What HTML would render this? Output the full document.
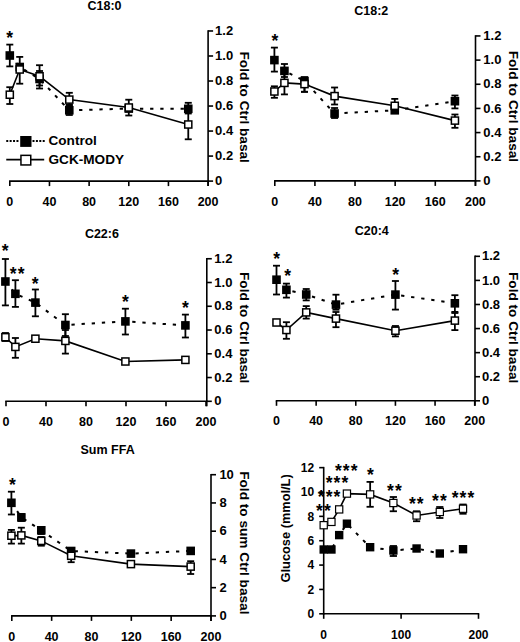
<!DOCTYPE html>
<html><head><meta charset="utf-8"><style>
html,body{margin:0;padding:0;background:#fff;}
svg{display:block;}
text{font-family:"Liberation Sans", sans-serif;font-weight:bold;fill:#000;}
line,path{stroke:#000;}
</style></head><body>
<svg width="520" height="642" viewBox="0 0 520 642">
<rect width="520" height="642" fill="#fff"/>
<text x="104.5" y="10.1" font-size="12.5" text-anchor="middle" >C18:0</text>
<line x1="9.05" y1="181.1" x2="208.85" y2="181.1" stroke-width="1.6" />
<line x1="9.8" y1="181.1" x2="9.8" y2="186.1" stroke-width="1.6" />
<text x="9.8" y="206" font-size="12.5" text-anchor="middle" >0</text>
<line x1="49.46" y1="181.1" x2="49.46" y2="186.1" stroke-width="1.6" />
<text x="49.46" y="206" font-size="12.5" text-anchor="middle" >40</text>
<line x1="89.12" y1="181.1" x2="89.12" y2="186.1" stroke-width="1.6" />
<text x="89.12" y="206" font-size="12.5" text-anchor="middle" >80</text>
<line x1="128.78" y1="181.1" x2="128.78" y2="186.1" stroke-width="1.6" />
<text x="128.78" y="206" font-size="12.5" text-anchor="middle" >120</text>
<line x1="168.44" y1="181.1" x2="168.44" y2="186.1" stroke-width="1.6" />
<text x="168.44" y="206" font-size="12.5" text-anchor="middle" >160</text>
<line x1="208.1" y1="181.1" x2="208.1" y2="186.1" stroke-width="1.6" />
<text x="208.1" y="206" font-size="12.5" text-anchor="middle" >200</text>
<line x1="208.1" y1="30.23" x2="208.1" y2="186.1" stroke-width="1.6" />
<line x1="208.1" y1="181.1" x2="213.1" y2="181.1" stroke-width="1.6" />
<text x="215.1" y="185.2" font-size="13" text-anchor="start" >0</text>
<line x1="208.1" y1="156.08" x2="213.1" y2="156.08" stroke-width="1.6" />
<text x="215.1" y="160.18" font-size="13" text-anchor="start" >0.2</text>
<line x1="208.1" y1="131.06" x2="213.1" y2="131.06" stroke-width="1.6" />
<text x="215.1" y="135.16" font-size="13" text-anchor="start" >0.4</text>
<line x1="208.1" y1="106.04" x2="213.1" y2="106.04" stroke-width="1.6" />
<text x="215.1" y="110.14" font-size="13" text-anchor="start" >0.6</text>
<line x1="208.1" y1="81.02" x2="213.1" y2="81.02" stroke-width="1.6" />
<text x="215.1" y="85.12" font-size="13" text-anchor="start" >0.8</text>
<line x1="208.1" y1="56" x2="213.1" y2="56" stroke-width="1.6" />
<text x="215.1" y="60.1" font-size="13" text-anchor="start" >1.0</text>
<line x1="208.1" y1="30.98" x2="213.1" y2="30.98" stroke-width="1.6" />
<text x="215.1" y="35.08" font-size="13" text-anchor="start" >1.2</text>
<text transform="translate(240.3,51.5) rotate(90)" font-size="13.65">Fold to Ctrl basal</text>
<path d="M9.8,55.5 L19.72,67 L39.55,79 L69.29,110.3 L128.78,108.6 L188.27,108.8" fill="none" stroke-width="2" stroke-dasharray="3.3 6.85"/>
<line x1="9.8" y1="44.6" x2="9.8" y2="66.4" stroke-width="1.8" />
<line x1="6.3" y1="44.6" x2="13.3" y2="44.6" stroke-width="1.8" />
<line x1="6.3" y1="66.4" x2="13.3" y2="66.4" stroke-width="1.8" />
<line x1="39.55" y1="71" x2="39.55" y2="88.5" stroke-width="1.8" />
<line x1="36.05" y1="71" x2="43.05" y2="71" stroke-width="1.8" />
<line x1="36.05" y1="88.5" x2="43.05" y2="88.5" stroke-width="1.8" />
<line x1="69.29" y1="105" x2="69.29" y2="115" stroke-width="1.8" />
<line x1="65.79" y1="105" x2="72.79" y2="105" stroke-width="1.8" />
<line x1="65.79" y1="115" x2="72.79" y2="115" stroke-width="1.8" />
<line x1="128.78" y1="105" x2="128.78" y2="111" stroke-width="1.8" />
<line x1="125.28" y1="105" x2="132.28" y2="105" stroke-width="1.8" />
<line x1="125.28" y1="111" x2="132.28" y2="111" stroke-width="1.8" />
<line x1="188.27" y1="102.8" x2="188.27" y2="113.5" stroke-width="1.8" />
<line x1="184.77" y1="102.8" x2="191.77" y2="102.8" stroke-width="1.8" />
<line x1="184.77" y1="113.5" x2="191.77" y2="113.5" stroke-width="1.8" />
<rect x="5.5" y="51.2" width="8.6" height="8.6" fill="#000" stroke="none"/>
<rect x="15.42" y="62.7" width="8.6" height="8.6" fill="#000" stroke="none"/>
<rect x="35.25" y="74.7" width="8.6" height="8.6" fill="#000" stroke="none"/>
<rect x="64.99" y="106" width="8.6" height="8.6" fill="#000" stroke="none"/>
<rect x="124.48" y="104.3" width="8.6" height="8.6" fill="#000" stroke="none"/>
<rect x="183.97" y="104.5" width="8.6" height="8.6" fill="#000" stroke="none"/>
<path d="M9.8,94.7 L19.72,69.5 L39.55,76.3 L69.29,99.6 L128.78,107.5 L188.27,124.5" fill="none" stroke-width="1.6"/>
<line x1="9.8" y1="87.2" x2="9.8" y2="104" stroke-width="1.8" />
<line x1="6.3" y1="87.2" x2="13.3" y2="87.2" stroke-width="1.8" />
<line x1="6.3" y1="104" x2="13.3" y2="104" stroke-width="1.8" />
<line x1="19.72" y1="56.9" x2="19.72" y2="83.7" stroke-width="1.8" />
<line x1="16.22" y1="56.9" x2="23.22" y2="56.9" stroke-width="1.8" />
<line x1="16.22" y1="83.7" x2="23.22" y2="83.7" stroke-width="1.8" />
<line x1="39.55" y1="65.2" x2="39.55" y2="85.5" stroke-width="1.8" />
<line x1="36.05" y1="65.2" x2="43.05" y2="65.2" stroke-width="1.8" />
<line x1="36.05" y1="85.5" x2="43.05" y2="85.5" stroke-width="1.8" />
<line x1="69.29" y1="92.8" x2="69.29" y2="105" stroke-width="1.8" />
<line x1="65.79" y1="92.8" x2="72.79" y2="92.8" stroke-width="1.8" />
<line x1="65.79" y1="105" x2="72.79" y2="105" stroke-width="1.8" />
<line x1="128.78" y1="99.7" x2="128.78" y2="115.5" stroke-width="1.8" />
<line x1="125.28" y1="99.7" x2="132.28" y2="99.7" stroke-width="1.8" />
<line x1="125.28" y1="115.5" x2="132.28" y2="115.5" stroke-width="1.8" />
<line x1="188.27" y1="112" x2="188.27" y2="139.3" stroke-width="1.8" />
<line x1="184.77" y1="112" x2="191.77" y2="112" stroke-width="1.8" />
<line x1="184.77" y1="139.3" x2="191.77" y2="139.3" stroke-width="1.8" />
<rect x="6.25" y="91.15" width="7.1" height="7.1" fill="#fff" stroke="#000" stroke-width="1.5"/>
<rect x="16.17" y="65.95" width="7.1" height="7.1" fill="#fff" stroke="#000" stroke-width="1.5"/>
<rect x="36" y="72.75" width="7.1" height="7.1" fill="#fff" stroke="#000" stroke-width="1.5"/>
<rect x="65.74" y="96.05" width="7.1" height="7.1" fill="#fff" stroke="#000" stroke-width="1.5"/>
<rect x="125.23" y="103.95" width="7.1" height="7.1" fill="#fff" stroke="#000" stroke-width="1.5"/>
<rect x="184.72" y="120.95" width="7.1" height="7.1" fill="#fff" stroke="#000" stroke-width="1.5"/>
<text x="10.15" y="43.8" font-size="17.5" text-anchor="middle" letter-spacing="1.1">*</text>
<text x="371.3" y="15.1" font-size="12.5" text-anchor="middle" >C18:2</text>
<line x1="274.05" y1="180.9" x2="476.25" y2="180.9" stroke-width="1.6" />
<line x1="274.8" y1="180.9" x2="274.8" y2="185.9" stroke-width="1.6" />
<text x="274.8" y="206" font-size="12.5" text-anchor="middle" >0</text>
<line x1="314.92" y1="180.9" x2="314.92" y2="185.9" stroke-width="1.6" />
<text x="314.92" y="206" font-size="12.5" text-anchor="middle" >40</text>
<line x1="355.04" y1="180.9" x2="355.04" y2="185.9" stroke-width="1.6" />
<text x="355.04" y="206" font-size="12.5" text-anchor="middle" >80</text>
<line x1="395.16" y1="180.9" x2="395.16" y2="185.9" stroke-width="1.6" />
<text x="395.16" y="206" font-size="12.5" text-anchor="middle" >120</text>
<line x1="435.28" y1="180.9" x2="435.28" y2="185.9" stroke-width="1.6" />
<text x="435.28" y="206" font-size="12.5" text-anchor="middle" >160</text>
<line x1="475.4" y1="180.9" x2="475.4" y2="185.9" stroke-width="1.6" />
<text x="475.4" y="206" font-size="12.5" text-anchor="middle" >200</text>
<line x1="475.5" y1="35.19" x2="475.5" y2="185.9" stroke-width="1.6" />
<line x1="475.5" y1="180.9" x2="480.5" y2="180.9" stroke-width="1.6" />
<text x="483.3" y="185" font-size="13" text-anchor="start" >0</text>
<line x1="475.5" y1="156.74" x2="480.5" y2="156.74" stroke-width="1.6" />
<text x="483.3" y="160.84" font-size="13" text-anchor="start" >0.2</text>
<line x1="475.5" y1="132.58" x2="480.5" y2="132.58" stroke-width="1.6" />
<text x="483.3" y="136.68" font-size="13" text-anchor="start" >0.4</text>
<line x1="475.5" y1="108.42" x2="480.5" y2="108.42" stroke-width="1.6" />
<text x="483.3" y="112.52" font-size="13" text-anchor="start" >0.6</text>
<line x1="475.5" y1="84.26" x2="480.5" y2="84.26" stroke-width="1.6" />
<text x="483.3" y="88.36" font-size="13" text-anchor="start" >0.8</text>
<line x1="475.5" y1="60.1" x2="480.5" y2="60.1" stroke-width="1.6" />
<text x="483.3" y="64.2" font-size="13" text-anchor="start" >1.0</text>
<line x1="475.5" y1="35.94" x2="480.5" y2="35.94" stroke-width="1.6" />
<text x="483.3" y="40.04" font-size="13" text-anchor="start" >1.2</text>
<text transform="translate(509.4,50.7) rotate(90)" font-size="13.65">Fold to Ctrl basal</text>
<path d="M274.4,60.1 L284.43,70.9 L304.49,81 L334.58,113.5 L394.76,110.3 L454.94,101.2" fill="none" stroke-width="2" stroke-dasharray="3.3 6.85"/>
<line x1="274.4" y1="47.6" x2="274.4" y2="71.6" stroke-width="1.8" />
<line x1="270.9" y1="47.6" x2="277.9" y2="47.6" stroke-width="1.8" />
<line x1="270.9" y1="71.6" x2="277.9" y2="71.6" stroke-width="1.8" />
<line x1="284.43" y1="64" x2="284.43" y2="77" stroke-width="1.8" />
<line x1="280.93" y1="64" x2="287.93" y2="64" stroke-width="1.8" />
<line x1="280.93" y1="77" x2="287.93" y2="77" stroke-width="1.8" />
<line x1="304.49" y1="77.3" x2="304.49" y2="91.8" stroke-width="1.8" />
<line x1="300.99" y1="77.3" x2="307.99" y2="77.3" stroke-width="1.8" />
<line x1="300.99" y1="91.8" x2="307.99" y2="91.8" stroke-width="1.8" />
<line x1="334.58" y1="108" x2="334.58" y2="118" stroke-width="1.8" />
<line x1="331.08" y1="108" x2="338.08" y2="108" stroke-width="1.8" />
<line x1="331.08" y1="118" x2="338.08" y2="118" stroke-width="1.8" />
<line x1="394.76" y1="106" x2="394.76" y2="113" stroke-width="1.8" />
<line x1="391.26" y1="106" x2="398.26" y2="106" stroke-width="1.8" />
<line x1="391.26" y1="113" x2="398.26" y2="113" stroke-width="1.8" />
<line x1="454.94" y1="95.5" x2="454.94" y2="108.4" stroke-width="1.8" />
<line x1="451.44" y1="95.5" x2="458.44" y2="95.5" stroke-width="1.8" />
<line x1="451.44" y1="108.4" x2="458.44" y2="108.4" stroke-width="1.8" />
<rect x="270.1" y="55.8" width="8.6" height="8.6" fill="#000" stroke="none"/>
<rect x="280.13" y="66.6" width="8.6" height="8.6" fill="#000" stroke="none"/>
<rect x="300.19" y="76.7" width="8.6" height="8.6" fill="#000" stroke="none"/>
<rect x="330.28" y="109.2" width="8.6" height="8.6" fill="#000" stroke="none"/>
<rect x="390.46" y="106" width="8.6" height="8.6" fill="#000" stroke="none"/>
<rect x="450.64" y="96.9" width="8.6" height="8.6" fill="#000" stroke="none"/>
<path d="M274.4,91.5 L284.43,82.9 L304.49,84.1 L334.58,96.1 L394.76,105.8 L454.94,120.6" fill="none" stroke-width="1.6"/>
<line x1="274.4" y1="86.3" x2="274.4" y2="97.8" stroke-width="1.8" />
<line x1="270.9" y1="86.3" x2="277.9" y2="86.3" stroke-width="1.8" />
<line x1="270.9" y1="97.8" x2="277.9" y2="97.8" stroke-width="1.8" />
<line x1="284.43" y1="72" x2="284.43" y2="94.4" stroke-width="1.8" />
<line x1="280.93" y1="72" x2="287.93" y2="72" stroke-width="1.8" />
<line x1="280.93" y1="94.4" x2="287.93" y2="94.4" stroke-width="1.8" />
<line x1="304.49" y1="77.3" x2="304.49" y2="91.8" stroke-width="1.8" />
<line x1="300.99" y1="77.3" x2="307.99" y2="77.3" stroke-width="1.8" />
<line x1="300.99" y1="91.8" x2="307.99" y2="91.8" stroke-width="1.8" />
<line x1="334.58" y1="87.5" x2="334.58" y2="104.5" stroke-width="1.8" />
<line x1="331.08" y1="87.5" x2="338.08" y2="87.5" stroke-width="1.8" />
<line x1="331.08" y1="104.5" x2="338.08" y2="104.5" stroke-width="1.8" />
<line x1="394.76" y1="98.9" x2="394.76" y2="110" stroke-width="1.8" />
<line x1="391.26" y1="98.9" x2="398.26" y2="98.9" stroke-width="1.8" />
<line x1="391.26" y1="110" x2="398.26" y2="110" stroke-width="1.8" />
<line x1="454.94" y1="114.5" x2="454.94" y2="127.8" stroke-width="1.8" />
<line x1="451.44" y1="114.5" x2="458.44" y2="114.5" stroke-width="1.8" />
<line x1="451.44" y1="127.8" x2="458.44" y2="127.8" stroke-width="1.8" />
<rect x="270.85" y="87.95" width="7.1" height="7.1" fill="#fff" stroke="#000" stroke-width="1.5"/>
<rect x="280.88" y="79.35" width="7.1" height="7.1" fill="#fff" stroke="#000" stroke-width="1.5"/>
<rect x="300.94" y="80.55" width="7.1" height="7.1" fill="#fff" stroke="#000" stroke-width="1.5"/>
<rect x="331.03" y="92.55" width="7.1" height="7.1" fill="#fff" stroke="#000" stroke-width="1.5"/>
<rect x="391.21" y="102.25" width="7.1" height="7.1" fill="#fff" stroke="#000" stroke-width="1.5"/>
<rect x="451.39" y="117.05" width="7.1" height="7.1" fill="#fff" stroke="#000" stroke-width="1.5"/>
<text x="275.45" y="47.4" font-size="17.5" text-anchor="middle" letter-spacing="1.1">*</text>
<text x="101.9" y="237.7" font-size="12.5" text-anchor="middle" >C22:6</text>
<line x1="5.25" y1="401.3" x2="207.55" y2="401.3" stroke-width="1.6" />
<line x1="6" y1="401.3" x2="6" y2="406.3" stroke-width="1.6" />
<text x="6" y="426" font-size="12.5" text-anchor="middle" >0</text>
<line x1="46" y1="401.3" x2="46" y2="406.3" stroke-width="1.6" />
<text x="46" y="426" font-size="12.5" text-anchor="middle" >40</text>
<line x1="86" y1="401.3" x2="86" y2="406.3" stroke-width="1.6" />
<text x="86" y="426" font-size="12.5" text-anchor="middle" >80</text>
<line x1="126" y1="401.3" x2="126" y2="406.3" stroke-width="1.6" />
<text x="126" y="426" font-size="12.5" text-anchor="middle" >120</text>
<line x1="166" y1="401.3" x2="166" y2="406.3" stroke-width="1.6" />
<text x="166" y="426" font-size="12.5" text-anchor="middle" >160</text>
<line x1="206" y1="401.3" x2="206" y2="406.3" stroke-width="1.6" />
<text x="206" y="426" font-size="12.5" text-anchor="middle" >200</text>
<line x1="206.8" y1="257.99" x2="206.8" y2="406.3" stroke-width="1.6" />
<line x1="206.8" y1="401.3" x2="211.8" y2="401.3" stroke-width="1.6" />
<text x="214.3" y="405.4" font-size="13" text-anchor="start" >0</text>
<line x1="206.8" y1="377.54" x2="211.8" y2="377.54" stroke-width="1.6" />
<text x="214.3" y="381.64" font-size="13" text-anchor="start" >0.2</text>
<line x1="206.8" y1="353.78" x2="211.8" y2="353.78" stroke-width="1.6" />
<text x="214.3" y="357.88" font-size="13" text-anchor="start" >0.4</text>
<line x1="206.8" y1="330.02" x2="211.8" y2="330.02" stroke-width="1.6" />
<text x="214.3" y="334.12" font-size="13" text-anchor="start" >0.6</text>
<line x1="206.8" y1="306.26" x2="211.8" y2="306.26" stroke-width="1.6" />
<text x="214.3" y="310.36" font-size="13" text-anchor="start" >0.8</text>
<line x1="206.8" y1="282.5" x2="211.8" y2="282.5" stroke-width="1.6" />
<text x="214.3" y="286.6" font-size="13" text-anchor="start" >1.0</text>
<line x1="206.8" y1="258.74" x2="211.8" y2="258.74" stroke-width="1.6" />
<text x="214.3" y="262.84" font-size="13" text-anchor="start" >1.2</text>
<text transform="translate(240,272) rotate(90)" font-size="13.65">Fold to Ctrl basal</text>
<path d="M5.4,281.5 L15.4,293.8 L35.4,302.6 L65.4,325 L125.4,321.4 L185.4,325.4" fill="none" stroke-width="2" stroke-dasharray="3.3 6.85"/>
<line x1="5.4" y1="259" x2="5.4" y2="305.4" stroke-width="1.8" />
<line x1="1.9" y1="259" x2="8.9" y2="259" stroke-width="1.8" />
<line x1="1.9" y1="305.4" x2="8.9" y2="305.4" stroke-width="1.8" />
<line x1="15.4" y1="280.2" x2="15.4" y2="306.9" stroke-width="1.8" />
<line x1="11.9" y1="280.2" x2="18.9" y2="280.2" stroke-width="1.8" />
<line x1="11.9" y1="306.9" x2="18.9" y2="306.9" stroke-width="1.8" />
<line x1="35.4" y1="289.5" x2="35.4" y2="316.3" stroke-width="1.8" />
<line x1="31.9" y1="289.5" x2="38.9" y2="289.5" stroke-width="1.8" />
<line x1="31.9" y1="316.3" x2="38.9" y2="316.3" stroke-width="1.8" />
<line x1="65.4" y1="314.2" x2="65.4" y2="336" stroke-width="1.8" />
<line x1="61.9" y1="314.2" x2="68.9" y2="314.2" stroke-width="1.8" />
<line x1="61.9" y1="336" x2="68.9" y2="336" stroke-width="1.8" />
<line x1="125.4" y1="308.7" x2="125.4" y2="334.5" stroke-width="1.8" />
<line x1="121.9" y1="308.7" x2="128.9" y2="308.7" stroke-width="1.8" />
<line x1="121.9" y1="334.5" x2="128.9" y2="334.5" stroke-width="1.8" />
<line x1="185.4" y1="314.6" x2="185.4" y2="337.5" stroke-width="1.8" />
<line x1="181.9" y1="314.6" x2="188.9" y2="314.6" stroke-width="1.8" />
<line x1="181.9" y1="337.5" x2="188.9" y2="337.5" stroke-width="1.8" />
<rect x="1.1" y="277.2" width="8.6" height="8.6" fill="#000" stroke="none"/>
<rect x="11.1" y="289.5" width="8.6" height="8.6" fill="#000" stroke="none"/>
<rect x="31.1" y="298.3" width="8.6" height="8.6" fill="#000" stroke="none"/>
<rect x="61.1" y="320.7" width="8.6" height="8.6" fill="#000" stroke="none"/>
<rect x="121.1" y="317.1" width="8.6" height="8.6" fill="#000" stroke="none"/>
<rect x="181.1" y="321.1" width="8.6" height="8.6" fill="#000" stroke="none"/>
<path d="M5.4,337.2 L15.4,346.9 L35.4,338.7 L65.4,340.9 L125.4,361.5 L185.4,359.9" fill="none" stroke-width="1.6"/>
<line x1="5.4" y1="333" x2="5.4" y2="341" stroke-width="1.8" />
<line x1="1.9" y1="333" x2="8.9" y2="333" stroke-width="1.8" />
<line x1="1.9" y1="341" x2="8.9" y2="341" stroke-width="1.8" />
<line x1="15.4" y1="338" x2="15.4" y2="357.8" stroke-width="1.8" />
<line x1="11.9" y1="338" x2="18.9" y2="338" stroke-width="1.8" />
<line x1="11.9" y1="357.8" x2="18.9" y2="357.8" stroke-width="1.8" />
<line x1="35.4" y1="336" x2="35.4" y2="341" stroke-width="1.8" />
<line x1="31.9" y1="336" x2="38.9" y2="336" stroke-width="1.8" />
<line x1="31.9" y1="341" x2="38.9" y2="341" stroke-width="1.8" />
<line x1="65.4" y1="330" x2="65.4" y2="353.6" stroke-width="1.8" />
<line x1="61.9" y1="330" x2="68.9" y2="330" stroke-width="1.8" />
<line x1="61.9" y1="353.6" x2="68.9" y2="353.6" stroke-width="1.8" />
<line x1="125.4" y1="359" x2="125.4" y2="364" stroke-width="1.8" />
<line x1="121.9" y1="359" x2="128.9" y2="359" stroke-width="1.8" />
<line x1="121.9" y1="364" x2="128.9" y2="364" stroke-width="1.8" />
<line x1="185.4" y1="357" x2="185.4" y2="363" stroke-width="1.8" />
<line x1="181.9" y1="357" x2="188.9" y2="357" stroke-width="1.8" />
<line x1="181.9" y1="363" x2="188.9" y2="363" stroke-width="1.8" />
<rect x="1.85" y="333.65" width="7.1" height="7.1" fill="#fff" stroke="#000" stroke-width="1.5"/>
<rect x="11.85" y="343.35" width="7.1" height="7.1" fill="#fff" stroke="#000" stroke-width="1.5"/>
<rect x="31.85" y="335.15" width="7.1" height="7.1" fill="#fff" stroke="#000" stroke-width="1.5"/>
<rect x="61.85" y="337.35" width="7.1" height="7.1" fill="#fff" stroke="#000" stroke-width="1.5"/>
<rect x="121.85" y="357.95" width="7.1" height="7.1" fill="#fff" stroke="#000" stroke-width="1.5"/>
<rect x="181.85" y="356.35" width="7.1" height="7.1" fill="#fff" stroke="#000" stroke-width="1.5"/>
<text x="5.75" y="256.5" font-size="17.5" text-anchor="middle" letter-spacing="1.1">*</text>
<text x="17.65" y="279.8" font-size="17.5" text-anchor="middle" letter-spacing="1.1">**</text>
<text x="35.65" y="290.1" font-size="17.5" text-anchor="middle" letter-spacing="1.1">*</text>
<text x="125.95" y="308" font-size="17.5" text-anchor="middle" letter-spacing="1.1">*</text>
<text x="186.05" y="314.2" font-size="17.5" text-anchor="middle" letter-spacing="1.1">*</text>
<text x="371.8" y="234.6" font-size="12.5" text-anchor="middle" >C20:4</text>
<line x1="275.75" y1="400.8" x2="475.75" y2="400.8" stroke-width="1.6" />
<line x1="276.5" y1="400.8" x2="276.5" y2="405.8" stroke-width="1.6" />
<text x="276.5" y="425" font-size="12.5" text-anchor="middle" >0</text>
<line x1="316.14" y1="400.8" x2="316.14" y2="405.8" stroke-width="1.6" />
<text x="316.14" y="425" font-size="12.5" text-anchor="middle" >40</text>
<line x1="355.78" y1="400.8" x2="355.78" y2="405.8" stroke-width="1.6" />
<text x="355.78" y="425" font-size="12.5" text-anchor="middle" >80</text>
<line x1="395.42" y1="400.8" x2="395.42" y2="405.8" stroke-width="1.6" />
<text x="395.42" y="425" font-size="12.5" text-anchor="middle" >120</text>
<line x1="435.06" y1="400.8" x2="435.06" y2="405.8" stroke-width="1.6" />
<text x="435.06" y="425" font-size="12.5" text-anchor="middle" >160</text>
<line x1="474.7" y1="400.8" x2="474.7" y2="405.8" stroke-width="1.6" />
<text x="474.7" y="425" font-size="12.5" text-anchor="middle" >200</text>
<line x1="475" y1="255.57" x2="475" y2="405.8" stroke-width="1.6" />
<line x1="475" y1="400.8" x2="480" y2="400.8" stroke-width="1.6" />
<text x="482" y="404.9" font-size="13" text-anchor="start" >0</text>
<line x1="475" y1="376.72" x2="480" y2="376.72" stroke-width="1.6" />
<text x="482" y="380.82" font-size="13" text-anchor="start" >0.2</text>
<line x1="475" y1="352.64" x2="480" y2="352.64" stroke-width="1.6" />
<text x="482" y="356.74" font-size="13" text-anchor="start" >0.4</text>
<line x1="475" y1="328.56" x2="480" y2="328.56" stroke-width="1.6" />
<text x="482" y="332.66" font-size="13" text-anchor="start" >0.6</text>
<line x1="475" y1="304.48" x2="480" y2="304.48" stroke-width="1.6" />
<text x="482" y="308.58" font-size="13" text-anchor="start" >0.8</text>
<line x1="475" y1="280.4" x2="480" y2="280.4" stroke-width="1.6" />
<text x="482" y="284.5" font-size="13" text-anchor="start" >1.0</text>
<line x1="475" y1="256.32" x2="480" y2="256.32" stroke-width="1.6" />
<text x="482" y="260.42" font-size="13" text-anchor="start" >1.2</text>
<text transform="translate(508.9,272) rotate(90)" font-size="13.65">Fold to Ctrl basal</text>
<path d="M276.5,279.7 L286.41,289.8 L306.23,294.5 L335.96,304.6 L395.42,294.6 L454.88,303.3" fill="none" stroke-width="2" stroke-dasharray="3.3 6.85"/>
<line x1="276.5" y1="265.7" x2="276.5" y2="294.5" stroke-width="1.8" />
<line x1="273" y1="265.7" x2="280" y2="265.7" stroke-width="1.8" />
<line x1="273" y1="294.5" x2="280" y2="294.5" stroke-width="1.8" />
<line x1="286.41" y1="283.6" x2="286.41" y2="297.6" stroke-width="1.8" />
<line x1="282.91" y1="283.6" x2="289.91" y2="283.6" stroke-width="1.8" />
<line x1="282.91" y1="297.6" x2="289.91" y2="297.6" stroke-width="1.8" />
<line x1="306.23" y1="289" x2="306.23" y2="300.4" stroke-width="1.8" />
<line x1="302.73" y1="289" x2="309.73" y2="289" stroke-width="1.8" />
<line x1="302.73" y1="300.4" x2="309.73" y2="300.4" stroke-width="1.8" />
<line x1="335.96" y1="294.7" x2="335.96" y2="309.7" stroke-width="1.8" />
<line x1="332.46" y1="294.7" x2="339.46" y2="294.7" stroke-width="1.8" />
<line x1="332.46" y1="309.7" x2="339.46" y2="309.7" stroke-width="1.8" />
<line x1="395.42" y1="281" x2="395.42" y2="309.6" stroke-width="1.8" />
<line x1="391.92" y1="281" x2="398.92" y2="281" stroke-width="1.8" />
<line x1="391.92" y1="309.6" x2="398.92" y2="309.6" stroke-width="1.8" />
<line x1="454.88" y1="295.2" x2="454.88" y2="311.9" stroke-width="1.8" />
<line x1="451.38" y1="295.2" x2="458.38" y2="295.2" stroke-width="1.8" />
<line x1="451.38" y1="311.9" x2="458.38" y2="311.9" stroke-width="1.8" />
<rect x="272.2" y="275.4" width="8.6" height="8.6" fill="#000" stroke="none"/>
<rect x="282.11" y="285.5" width="8.6" height="8.6" fill="#000" stroke="none"/>
<rect x="301.93" y="290.2" width="8.6" height="8.6" fill="#000" stroke="none"/>
<rect x="331.66" y="300.3" width="8.6" height="8.6" fill="#000" stroke="none"/>
<rect x="391.12" y="290.3" width="8.6" height="8.6" fill="#000" stroke="none"/>
<rect x="450.58" y="299" width="8.6" height="8.6" fill="#000" stroke="none"/>
<path d="M276.5,322.5 L286.41,330 L306.23,312.4 L335.96,318.6 L395.42,330.7 L454.88,320.6" fill="none" stroke-width="1.6"/>
<line x1="276.5" y1="320" x2="276.5" y2="325" stroke-width="1.8" />
<line x1="273" y1="320" x2="280" y2="320" stroke-width="1.8" />
<line x1="273" y1="325" x2="280" y2="325" stroke-width="1.8" />
<line x1="286.41" y1="322.2" x2="286.41" y2="338.8" stroke-width="1.8" />
<line x1="282.91" y1="322.2" x2="289.91" y2="322.2" stroke-width="1.8" />
<line x1="282.91" y1="338.8" x2="289.91" y2="338.8" stroke-width="1.8" />
<line x1="306.23" y1="306.1" x2="306.23" y2="318.6" stroke-width="1.8" />
<line x1="302.73" y1="306.1" x2="309.73" y2="306.1" stroke-width="1.8" />
<line x1="302.73" y1="318.6" x2="309.73" y2="318.6" stroke-width="1.8" />
<line x1="335.96" y1="312" x2="335.96" y2="327.2" stroke-width="1.8" />
<line x1="332.46" y1="312" x2="339.46" y2="312" stroke-width="1.8" />
<line x1="332.46" y1="327.2" x2="339.46" y2="327.2" stroke-width="1.8" />
<line x1="395.42" y1="326" x2="395.42" y2="336.4" stroke-width="1.8" />
<line x1="391.92" y1="326" x2="398.92" y2="326" stroke-width="1.8" />
<line x1="391.92" y1="336.4" x2="398.92" y2="336.4" stroke-width="1.8" />
<line x1="454.88" y1="313" x2="454.88" y2="330.1" stroke-width="1.8" />
<line x1="451.38" y1="313" x2="458.38" y2="313" stroke-width="1.8" />
<line x1="451.38" y1="330.1" x2="458.38" y2="330.1" stroke-width="1.8" />
<rect x="272.95" y="318.95" width="7.1" height="7.1" fill="#fff" stroke="#000" stroke-width="1.5"/>
<rect x="282.86" y="326.45" width="7.1" height="7.1" fill="#fff" stroke="#000" stroke-width="1.5"/>
<rect x="302.68" y="308.85" width="7.1" height="7.1" fill="#fff" stroke="#000" stroke-width="1.5"/>
<rect x="332.41" y="315.05" width="7.1" height="7.1" fill="#fff" stroke="#000" stroke-width="1.5"/>
<rect x="391.87" y="327.15" width="7.1" height="7.1" fill="#fff" stroke="#000" stroke-width="1.5"/>
<rect x="451.33" y="317.05" width="7.1" height="7.1" fill="#fff" stroke="#000" stroke-width="1.5"/>
<text x="277.25" y="264.6" font-size="17.5" text-anchor="middle" letter-spacing="1.1">*</text>
<text x="288.15" y="281.7" font-size="17.5" text-anchor="middle" letter-spacing="1.1">*</text>
<text x="396.15" y="280.5" font-size="17.5" text-anchor="middle" letter-spacing="1.1">*</text>
<text x="107.6" y="453.5" font-size="12.5" text-anchor="middle" >Sum FFA</text>
<line x1="11.05" y1="615.9" x2="211.75" y2="615.9" stroke-width="1.6" />
<line x1="11.8" y1="615.9" x2="11.8" y2="620.9" stroke-width="1.6" />
<text x="11.8" y="641" font-size="12.5" text-anchor="middle" >0</text>
<line x1="51.64" y1="615.9" x2="51.64" y2="620.9" stroke-width="1.6" />
<text x="51.64" y="641" font-size="12.5" text-anchor="middle" >40</text>
<line x1="91.48" y1="615.9" x2="91.48" y2="620.9" stroke-width="1.6" />
<text x="91.48" y="641" font-size="12.5" text-anchor="middle" >80</text>
<line x1="131.32" y1="615.9" x2="131.32" y2="620.9" stroke-width="1.6" />
<text x="131.32" y="641" font-size="12.5" text-anchor="middle" >120</text>
<line x1="171.16" y1="615.9" x2="171.16" y2="620.9" stroke-width="1.6" />
<text x="171.16" y="641" font-size="12.5" text-anchor="middle" >160</text>
<line x1="211" y1="615.9" x2="211" y2="620.9" stroke-width="1.6" />
<text x="211" y="641" font-size="12.5" text-anchor="middle" >200</text>
<line x1="211" y1="473.95" x2="211" y2="620.9" stroke-width="1.6" />
<line x1="211" y1="615.9" x2="216" y2="615.9" stroke-width="1.6" />
<text x="219.4" y="620" font-size="13" text-anchor="start" >0</text>
<line x1="211" y1="587.66" x2="216" y2="587.66" stroke-width="1.6" />
<text x="219.4" y="591.76" font-size="13" text-anchor="start" >2</text>
<line x1="211" y1="559.42" x2="216" y2="559.42" stroke-width="1.6" />
<text x="219.4" y="563.52" font-size="13" text-anchor="start" >4</text>
<line x1="211" y1="531.18" x2="216" y2="531.18" stroke-width="1.6" />
<text x="219.4" y="535.28" font-size="13" text-anchor="start" >6</text>
<line x1="211" y1="502.94" x2="216" y2="502.94" stroke-width="1.6" />
<text x="219.4" y="507.04" font-size="13" text-anchor="start" >8</text>
<line x1="211" y1="474.7" x2="216" y2="474.7" stroke-width="1.6" />
<text x="219.4" y="478.8" font-size="13" text-anchor="start" >10</text>
<text transform="translate(240.4,471.2) rotate(90)" font-size="13.65">Fold to sum Ctrl basal</text>
<path d="M11.4,502.8 L21.36,517.4 L41.28,530.3 L71.16,551 L130.92,553.6 L190.68,550.9" fill="none" stroke-width="2" stroke-dasharray="3.3 6.85"/>
<line x1="11.4" y1="491.7" x2="11.4" y2="514.5" stroke-width="1.8" />
<line x1="7.9" y1="491.7" x2="14.9" y2="491.7" stroke-width="1.8" />
<line x1="7.9" y1="514.5" x2="14.9" y2="514.5" stroke-width="1.8" />
<line x1="21.36" y1="514" x2="21.36" y2="521" stroke-width="1.8" />
<line x1="17.86" y1="514" x2="24.86" y2="514" stroke-width="1.8" />
<line x1="17.86" y1="521" x2="24.86" y2="521" stroke-width="1.8" />
<line x1="41.28" y1="527" x2="41.28" y2="534" stroke-width="1.8" />
<line x1="37.78" y1="527" x2="44.78" y2="527" stroke-width="1.8" />
<line x1="37.78" y1="534" x2="44.78" y2="534" stroke-width="1.8" />
<line x1="71.16" y1="548" x2="71.16" y2="554" stroke-width="1.8" />
<line x1="67.66" y1="548" x2="74.66" y2="548" stroke-width="1.8" />
<line x1="67.66" y1="554" x2="74.66" y2="554" stroke-width="1.8" />
<line x1="130.92" y1="551" x2="130.92" y2="556" stroke-width="1.8" />
<line x1="127.42" y1="551" x2="134.42" y2="551" stroke-width="1.8" />
<line x1="127.42" y1="556" x2="134.42" y2="556" stroke-width="1.8" />
<line x1="190.68" y1="549" x2="190.68" y2="553" stroke-width="1.8" />
<line x1="187.18" y1="549" x2="194.18" y2="549" stroke-width="1.8" />
<line x1="187.18" y1="553" x2="194.18" y2="553" stroke-width="1.8" />
<rect x="7.1" y="498.5" width="8.6" height="8.6" fill="#000" stroke="none"/>
<rect x="17.06" y="513.1" width="8.6" height="8.6" fill="#000" stroke="none"/>
<rect x="36.98" y="526" width="8.6" height="8.6" fill="#000" stroke="none"/>
<rect x="66.86" y="546.7" width="8.6" height="8.6" fill="#000" stroke="none"/>
<rect x="126.62" y="549.3" width="8.6" height="8.6" fill="#000" stroke="none"/>
<rect x="186.38" y="546.6" width="8.6" height="8.6" fill="#000" stroke="none"/>
<path d="M11.4,535.7 L21.36,535.4 L41.28,540.9 L71.16,555.8 L130.92,564.1 L190.68,566.6" fill="none" stroke-width="1.6"/>
<line x1="11.4" y1="529.9" x2="11.4" y2="543.6" stroke-width="1.8" />
<line x1="7.9" y1="529.9" x2="14.9" y2="529.9" stroke-width="1.8" />
<line x1="7.9" y1="543.6" x2="14.9" y2="543.6" stroke-width="1.8" />
<line x1="21.36" y1="527.7" x2="21.36" y2="543.6" stroke-width="1.8" />
<line x1="17.86" y1="527.7" x2="24.86" y2="527.7" stroke-width="1.8" />
<line x1="17.86" y1="543.6" x2="24.86" y2="543.6" stroke-width="1.8" />
<line x1="41.28" y1="537" x2="41.28" y2="545.7" stroke-width="1.8" />
<line x1="37.78" y1="537" x2="44.78" y2="537" stroke-width="1.8" />
<line x1="37.78" y1="545.7" x2="44.78" y2="545.7" stroke-width="1.8" />
<line x1="71.16" y1="551" x2="71.16" y2="562.2" stroke-width="1.8" />
<line x1="67.66" y1="551" x2="74.66" y2="551" stroke-width="1.8" />
<line x1="67.66" y1="562.2" x2="74.66" y2="562.2" stroke-width="1.8" />
<line x1="130.92" y1="562" x2="130.92" y2="566" stroke-width="1.8" />
<line x1="127.42" y1="562" x2="134.42" y2="562" stroke-width="1.8" />
<line x1="127.42" y1="566" x2="134.42" y2="566" stroke-width="1.8" />
<line x1="190.68" y1="561.2" x2="190.68" y2="574" stroke-width="1.8" />
<line x1="187.18" y1="561.2" x2="194.18" y2="561.2" stroke-width="1.8" />
<line x1="187.18" y1="574" x2="194.18" y2="574" stroke-width="1.8" />
<rect x="7.85" y="532.15" width="7.1" height="7.1" fill="#fff" stroke="#000" stroke-width="1.5"/>
<rect x="17.81" y="531.85" width="7.1" height="7.1" fill="#fff" stroke="#000" stroke-width="1.5"/>
<rect x="37.73" y="537.35" width="7.1" height="7.1" fill="#fff" stroke="#000" stroke-width="1.5"/>
<rect x="67.61" y="552.25" width="7.1" height="7.1" fill="#fff" stroke="#000" stroke-width="1.5"/>
<rect x="127.37" y="560.55" width="7.1" height="7.1" fill="#fff" stroke="#000" stroke-width="1.5"/>
<rect x="187.13" y="563.05" width="7.1" height="7.1" fill="#fff" stroke="#000" stroke-width="1.5"/>
<text x="12.85" y="490.9" font-size="17.5" text-anchor="middle" letter-spacing="1.1">*</text>
<text x="0" y="0" font-size="12.5" text-anchor="middle" ></text>
<line x1="322.95" y1="613.8" x2="479.25" y2="613.8" stroke-width="1.6" />
<line x1="323.7" y1="613.8" x2="323.7" y2="618.8" stroke-width="1.6" />
<text x="323.7" y="638.8" font-size="12" text-anchor="middle" >0</text>
<line x1="401.1" y1="613.8" x2="401.1" y2="618.8" stroke-width="1.6" />
<text x="401.1" y="638.8" font-size="12" text-anchor="middle" >100</text>
<line x1="478.5" y1="613.8" x2="478.5" y2="618.8" stroke-width="1.6" />
<text x="478.5" y="638.8" font-size="12" text-anchor="middle" >200</text>
<line x1="323.7" y1="466.89" x2="323.7" y2="614.6" stroke-width="1.6" />
<line x1="319.2" y1="613.8" x2="323.7" y2="613.8" stroke-width="1.6" />
<text x="314.2" y="618.1" font-size="12" text-anchor="end" >0</text>
<line x1="319.2" y1="589.44" x2="323.7" y2="589.44" stroke-width="1.6" />
<text x="314.2" y="593.74" font-size="12" text-anchor="end" >2</text>
<line x1="319.2" y1="565.08" x2="323.7" y2="565.08" stroke-width="1.6" />
<text x="314.2" y="569.38" font-size="12" text-anchor="end" >4</text>
<line x1="319.2" y1="540.72" x2="323.7" y2="540.72" stroke-width="1.6" />
<text x="314.2" y="545.02" font-size="12" text-anchor="end" >6</text>
<line x1="319.2" y1="516.36" x2="323.7" y2="516.36" stroke-width="1.6" />
<text x="314.2" y="520.66" font-size="12" text-anchor="end" >8</text>
<line x1="319.2" y1="492" x2="323.7" y2="492" stroke-width="1.6" />
<text x="314.2" y="496.3" font-size="12" text-anchor="end" >10</text>
<line x1="319.2" y1="467.64" x2="323.7" y2="467.64" stroke-width="1.6" />
<text x="314.2" y="471.94" font-size="12" text-anchor="end" >12</text>
<text transform="translate(290.2,582.4) rotate(-90)" font-size="12.8">Glucose (mmol/L)</text>
<path d="M323.7,549.5 L331.44,549.5 L339.18,535.1 L346.92,523.7 L370.14,547.2 L393.36,550.5 L416.58,548.5 L439.8,553.5 L463.02,549.2" fill="none" stroke-width="2" stroke-dasharray="3.3 6.85"/>
<line x1="393.36" y1="546" x2="393.36" y2="556" stroke-width="1.8" />
<line x1="389.76" y1="546" x2="396.96" y2="546" stroke-width="1.8" />
<line x1="389.76" y1="556" x2="396.96" y2="556" stroke-width="1.8" />
<rect x="319.5" y="545.3" width="8.4" height="8.4" fill="#000" stroke="none"/>
<rect x="327.24" y="545.3" width="8.4" height="8.4" fill="#000" stroke="none"/>
<rect x="334.98" y="530.9" width="8.4" height="8.4" fill="#000" stroke="none"/>
<rect x="342.72" y="519.5" width="8.4" height="8.4" fill="#000" stroke="none"/>
<rect x="365.94" y="543" width="8.4" height="8.4" fill="#000" stroke="none"/>
<rect x="389.16" y="546.3" width="8.4" height="8.4" fill="#000" stroke="none"/>
<rect x="412.38" y="544.3" width="8.4" height="8.4" fill="#000" stroke="none"/>
<rect x="435.6" y="549.3" width="8.4" height="8.4" fill="#000" stroke="none"/>
<rect x="458.82" y="545" width="8.4" height="8.4" fill="#000" stroke="none"/>
<path d="M323.7,525.2 L331.44,521.9 L339.18,509.4 L346.92,493.6 L370.14,494.4 L393.36,503 L416.58,515.5 L439.8,512 L463.02,508.75" fill="none" stroke-width="1.6"/>
<line x1="370.14" y1="481.9" x2="370.14" y2="506.8" stroke-width="1.8" />
<line x1="366.54" y1="481.9" x2="373.74" y2="481.9" stroke-width="1.8" />
<line x1="366.54" y1="506.8" x2="373.74" y2="506.8" stroke-width="1.8" />
<line x1="393.36" y1="497" x2="393.36" y2="511.25" stroke-width="1.8" />
<line x1="389.76" y1="497" x2="396.96" y2="497" stroke-width="1.8" />
<line x1="389.76" y1="511.25" x2="396.96" y2="511.25" stroke-width="1.8" />
<line x1="416.58" y1="511.25" x2="416.58" y2="521.25" stroke-width="1.8" />
<line x1="412.98" y1="511.25" x2="420.18" y2="511.25" stroke-width="1.8" />
<line x1="412.98" y1="521.25" x2="420.18" y2="521.25" stroke-width="1.8" />
<line x1="439.8" y1="507" x2="439.8" y2="518" stroke-width="1.8" />
<line x1="436.2" y1="507" x2="443.4" y2="507" stroke-width="1.8" />
<line x1="436.2" y1="518" x2="443.4" y2="518" stroke-width="1.8" />
<line x1="463.02" y1="504.5" x2="463.02" y2="513.75" stroke-width="1.8" />
<line x1="459.42" y1="504.5" x2="466.62" y2="504.5" stroke-width="1.8" />
<line x1="459.42" y1="513.75" x2="466.62" y2="513.75" stroke-width="1.8" />
<rect x="320.1" y="521.6" width="7.2" height="7.2" fill="#fff" stroke="#000" stroke-width="1.2"/>
<rect x="327.84" y="518.3" width="7.2" height="7.2" fill="#fff" stroke="#000" stroke-width="1.2"/>
<rect x="335.58" y="505.8" width="7.2" height="7.2" fill="#fff" stroke="#000" stroke-width="1.2"/>
<rect x="343.32" y="490" width="7.2" height="7.2" fill="#fff" stroke="#000" stroke-width="1.2"/>
<rect x="366.54" y="490.8" width="7.2" height="7.2" fill="#fff" stroke="#000" stroke-width="1.2"/>
<rect x="389.76" y="499.4" width="7.2" height="7.2" fill="#fff" stroke="#000" stroke-width="1.2"/>
<rect x="412.98" y="511.9" width="7.2" height="7.2" fill="#fff" stroke="#000" stroke-width="1.2"/>
<rect x="436.2" y="508.4" width="7.2" height="7.2" fill="#fff" stroke="#000" stroke-width="1.2"/>
<rect x="459.42" y="505.15" width="7.2" height="7.2" fill="#fff" stroke="#000" stroke-width="1.2"/>
<text x="323.95" y="516.5" font-size="17.5" text-anchor="middle" letter-spacing="1.1">**</text>
<text x="329.65" y="503" font-size="17.5" text-anchor="middle" letter-spacing="1.1">***</text>
<text x="337.55" y="488.5" font-size="17.5" text-anchor="middle" letter-spacing="1.1">***</text>
<text x="346.75" y="476.8" font-size="17.5" text-anchor="middle" letter-spacing="1.1">***</text>
<text x="370.85" y="481.2" font-size="17.5" text-anchor="middle" letter-spacing="1.1">*</text>
<text x="394.95" y="497" font-size="17.5" text-anchor="middle" letter-spacing="1.1">**</text>
<text x="416.85" y="510.25" font-size="17.5" text-anchor="middle" letter-spacing="1.1">**</text>
<text x="439.95" y="507" font-size="17.5" text-anchor="middle" letter-spacing="1.1">**</text>
<text x="463.55" y="504" font-size="17.5" text-anchor="middle" letter-spacing="1.1">***</text>
<path d="M6.25,141.1 H19.5 M32.5,141.1 H45" fill="none" stroke-width="2" stroke-dasharray="2 1.4"/>
<rect x="20.2" y="136" width="11.3" height="10.9" fill="#000"/>
<line x1="6.25" y1="159.6" x2="44.2" y2="159.6" stroke-width="1.8" />
<rect x="20.95" y="155.35" width="9.8" height="9.6" fill="#fff" stroke="#000" stroke-width="1.5"/>
<text x="48.5" y="145.2" font-size="13.6" text-anchor="start" >Control</text>
<text x="48.5" y="164.2" font-size="13.6" text-anchor="start" >GCK-MODY</text>
</svg>
</body></html>
